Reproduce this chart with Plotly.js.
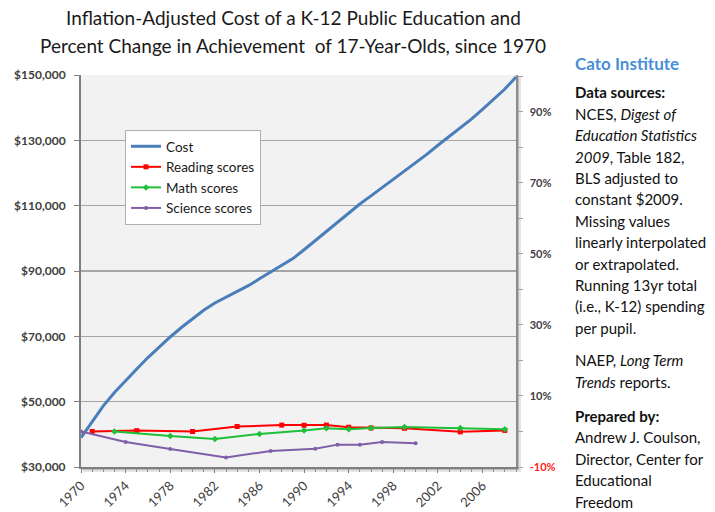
<!DOCTYPE html>
<html>
<head>
<meta charset="utf-8">
<script src="https://cdn.plot.ly/plotly-3.0.1.min.js"></script>
<style>html,body{margin:0;padding:0;background:#fff;}#chart{width:715px;height:512px;}</style>
</head>
<body>
<div id="chart"></div>
<script>
// ---- data ----
var costYears = [1970,1971,1972,1973,1974,1975,1976,1977,1978,1979,1980,1981,1982,1983,1984,1985,1986,1987,1988,1989,1990,1991,1992,1993,1994,1995,1996,1997,1998,1999,2000,2001,2002,2003,2004,2005,2006,2007,2008,2009];
var costValues = [39000,44000,48700,52800,56500,60000,63500,66800,69800,72700,75500,78000,80200,82000,83700,85500,87600,89700,91800,93800,96500,99300,102000,104800,107600,110500,113000,115500,118000,120500,123000,125700,128500,131200,133800,136500,139500,142500,145700,149400];

var readingYears = [1971,1975,1980,1984,1988,1990,1992,1994,1996,1999,2004,2008];
var readingPct   = [0,0.25,0,1.4,1.8,1.75,1.8,1.2,1.0,0.9,-0.1,0.3];

var mathYears = [1973,1978,1982,1986,1990,1992,1994,1996,1999,2004,2008];
var mathPct   = [0,-1.3,-2.1,-0.7,0.3,0.9,0.6,1.0,1.3,1.0,0.6];

var scienceYears = [1970,1974,1978,1983,1987,1991,1993,1995,1997,2000];
var sciencePct   = [0,-2.95,-4.9,-7.3,-5.5,-4.85,-3.7,-3.7,-2.95,-3.3];

var xTickVals = [1970,1974,1978,1982,1986,1990,1994,1998,2002,2006];
var leftTickVals = [30000,50000,70000,90000,110000,130000,150000];
var rightTickVals = [-10,10,30,50,70,90];
var rightTickText = ['<span style="fill:#ff2020">-10%</span>','10%','30%','50%','70%','90%'];

var titleLines = [
  {t:'Inflation-Adjusted Cost of a K-12 Public Education and', y:18},
  {t:'Percent Change in Achievement  of 17-Year-Olds, since 1970', y:45}
];

var sideLines = [
  {t:'<b>Data sources:</b>', y:92},
  {t:'NCES, <i>Digest of</i>', y:114},
  {t:'<i>Education Statistics</i>', y:135},
  {t:'<i>2009</i>, Table 182,', y:157},
  {t:'BLS adjusted to', y:178},
  {t:'constant $2009.', y:199},
  {t:'Missing values', y:221},
  {t:'linearly interpolated', y:242},
  {t:'or extrapolated.', y:264},
  {t:'Running 13yr total', y:285},
  {t:'(i.e., K-12) spending', y:306},
  {t:'per pupil.', y:328},
  {t:'NAEP, <i>Long Term</i>', y:360},
  {t:'<i>Trends</i> reports.', y:382},
  {t:'<b>Prepared by:</b>', y:416},
  {t:'Andrew J. Coulson,', y:437},
  {t:'Director, Center for', y:459},
  {t:'Educational', y:480},
  {t:'Freedom', y:502}
];

// ---- geometry helpers (plot area: x 81..516, y 75..467) ----
var L = 81, R = 516, T = 75, B = 467;
function px2py(p){ return (B - p) / (B - T); }
function px2px(p){ return (p - L) / (R - L); }

var FONT = 'Lato, "Open Sans", sans-serif';

var traces = [
  {x: costYears, y: costValues, name: 'Cost', mode: 'lines',
   line: {color: '#4a7ebb', width: 3}, yaxis: 'y'},
  {x: readingYears, y: readingPct, name: 'Reading scores', mode: 'lines+markers',
   line: {color: '#ff0000', width: 2}, marker: {color: '#ff0000', size: 5, symbol: 'square'}, yaxis: 'y2'},
  {x: mathYears, y: mathPct, name: 'Math scores', mode: 'lines+markers',
   line: {color: '#1fbf3a', width: 2}, marker: {color: '#1fbf3a', size: 5, symbol: 'diamond'}, yaxis: 'y2'},
  {x: scienceYears, y: sciencePct, name: 'Science scores', mode: 'lines+markers',
   line: {color: '#7f5fa8', width: 2}, marker: {color: '#7f5fa8', size: 4, symbol: 'circle'}, yaxis: 'y2'}
];

var annotations = titleLines.map(function(s){
  return {text: s.t, xref: 'paper', yref: 'paper', x: px2px(293), y: px2py(s.y),
          xanchor: 'center', yanchor: 'middle', showarrow: false,
          font: {family: FONT, size: 19, color: '#1a1a1a'}};
});
sideLines.forEach(function(s){
  annotations.push({text: s.t, xref: 'paper', yref: 'paper', x: px2px(573), y: px2py(s.y),
          xanchor: 'left', yanchor: 'middle', showarrow: false,
          font: {family: FONT, size: 15, color: '#111'}});
});
annotations.push({text: '<b>Cato Institute</b>', xref: 'paper', yref: 'paper',
  x: px2px(573), y: px2py(63), xanchor: 'left', yanchor: 'middle', showarrow: false,
  font: {family: FONT, size: 17, color: '#4a8fd6'}});

var shapes = [
  {type: 'rect', xref: 'paper', yref: 'paper', x0: px2px(L+2), x1: px2px(R+5), y0: px2py(B+5), y1: px2py(T+2),
   fillcolor: 'rgba(0,0,0,0.10)', line: {width: 0}, layer: 'below'},
  {type: 'rect', xref: 'paper', yref: 'paper', x0: px2px(L+1), x1: px2px(R+3), y0: px2py(B+3), y1: px2py(T+1),
   fillcolor: 'rgba(0,0,0,0.18)', line: {width: 0}, layer: 'below'},
  {type: 'rect', xref: 'paper', yref: 'paper', x0: 0, x1: 1, y0: 0, y1: 1,
   fillcolor: '#f2f2f2', line: {width: 0}, layer: 'below'}
];

var layout = {
  width: 715, height: 512,
  margin: {l: L, r: 715 - R, t: T, b: 512 - B, pad: 0},
  paper_bgcolor: '#ffffff',
  plot_bgcolor: 'rgba(0,0,0,0)',
  font: {family: FONT, color: '#404040'},
  title: {text: ''},
  xaxis: {type: 'linear', range: [1970, 2009], tickmode: 'array', tickvals: xTickVals,
          tickangle: -45, tickfont: {family: FONT, size: 13, color: '#404040'},
          ticks: 'outside', ticklen: 4, tickcolor: '#808080',
          minor: {tick0: 1970, dtick: 1, ticks: 'outside', ticklen: 3, tickcolor: '#909090'},
          showgrid: false, zeroline: false,
          showline: true, linecolor: '#7f7f7f', linewidth: 2, mirror: false, fixedrange: true},
  yaxis: {range: [30000, 150000], tickmode: 'array', tickvals: leftTickVals,
          tickformat: '$,.0f', tickfont: {family: FONT, size: 12, color: '#404040', weight: 'bold'},
          ticks: 'outside', ticklen: 5, tickcolor: '#808080', ticklabelstandoff: 6,
          showgrid: true, gridcolor: '#a6a6a6', gridwidth: 1.5, zeroline: false,
          showline: true, linecolor: '#7f7f7f', linewidth: 2, fixedrange: true},
  yaxis2: {overlaying: 'y', side: 'right', range: [-10, 100.4], tickmode: 'array',
           tickvals: rightTickVals, ticktext: rightTickText,
           tickfont: {family: FONT, size: 11, color: '#404040', weight: 'bold'},
           ticks: 'outside', ticklen: 5, tickcolor: '#a0a0a0', ticklabelstandoff: 5,
           minor: {tick0: -10, dtick: 10, ticks: 'outside', ticklen: 5, tickcolor: '#a0a0a0'},
           showgrid: false, zeroline: false,
           showline: true, linecolor: '#8c8c8c', linewidth: 1.5, fixedrange: true},
  legend: {x: px2px(125), y: px2py(130), xanchor: 'left', yanchor: 'top',
           bgcolor: '#ffffff', bordercolor: '#b0b0b0', borderwidth: 1,
           font: {family: FONT, size: 13.5, color: '#1a1a1a'}, itemwidth: 30, tracegroupgap: 0},
  showlegend: true,
  shapes: shapes,
  annotations: annotations
};

Plotly.newPlot('chart', traces, layout, {displayModeBar: false, staticPlot: true});
</script>
</body>
</html>
